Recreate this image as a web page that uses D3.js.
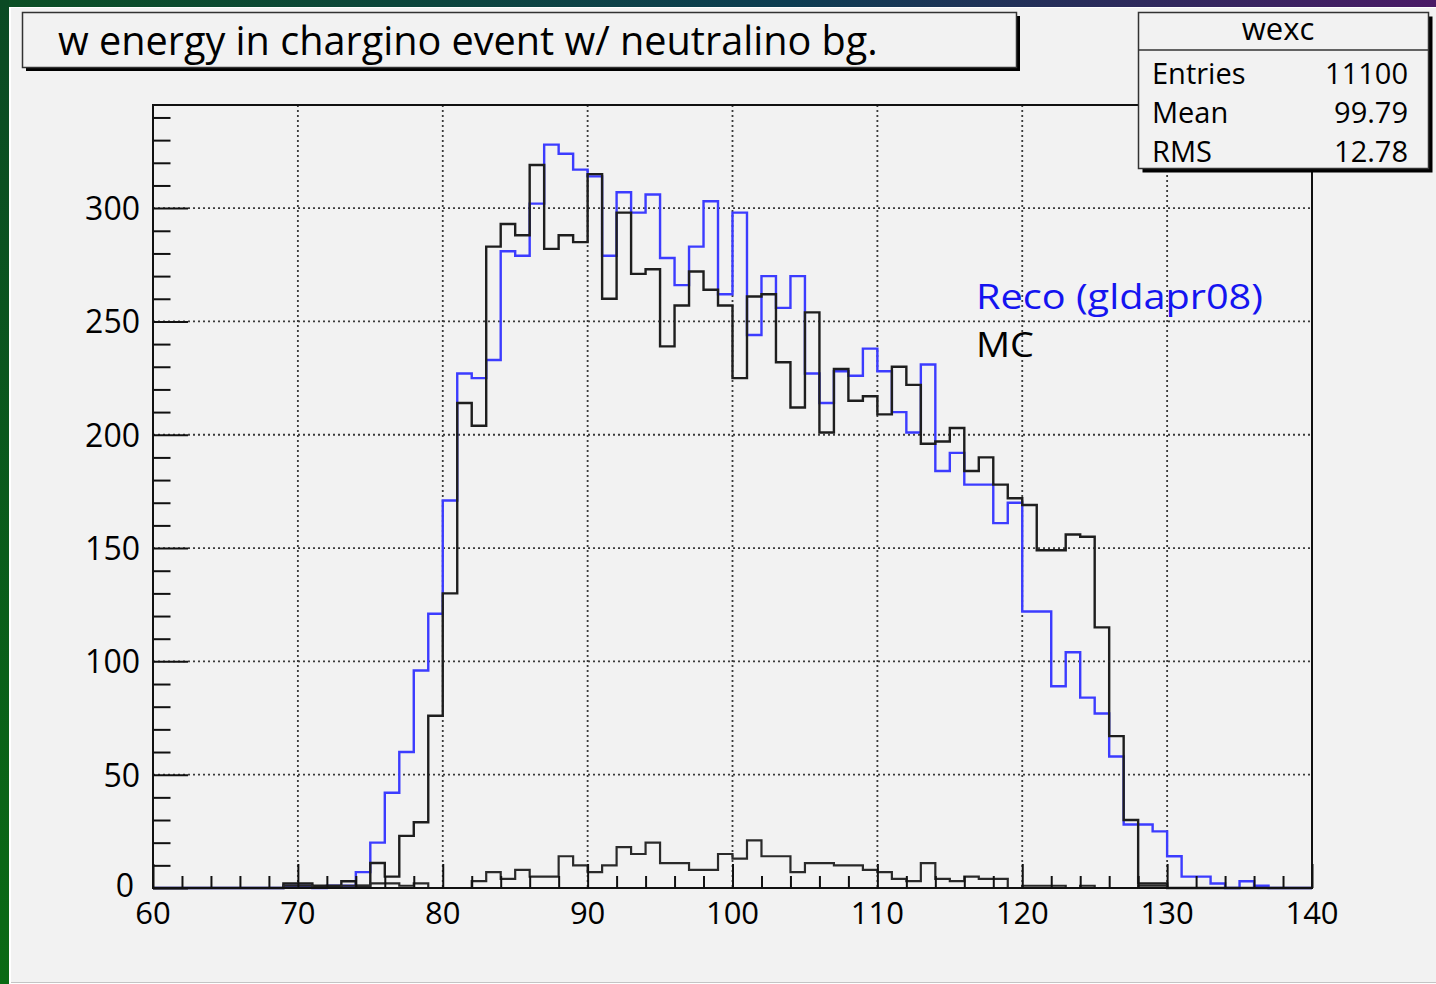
<!DOCTYPE html>
<html>
<head>
<meta charset="utf-8">
<script src="https://cdn.jsdelivr.net/npm/d3@7"></script>
<style>
  html, body { margin: 0; padding: 0; background: #ffffff; }
  svg { display: block; }
  text { font-family: "Open Sans", "Noto Sans", sans-serif; }
</style>
</head>
<body>
<svg id="chart" width="1436" height="984"></svg>
<script>
// Bin layout: 80 bins of width 1 from 60 to 140
const binLow = 60;
const binHigh = 140;
const xTicks = [60, 70, 80, 90, 100, 110, 120, 130, 140];
const yTicks = [0, 50, 100, 150, 200, 250, 300];

// Reconstructed W energy (blue)
const recoCounts = [
  0, 0, 0, 0, 0, 0, 0, 0, 0, 1,
  1, 0, 1, 1, 7, 20, 42, 60, 96, 121,
  171, 227, 225, 233, 281, 279, 302, 328, 324, 317,
  314, 279, 307, 298, 306, 278, 266, 283, 303, 262,
  298, 244, 270, 256, 270, 227, 214, 228, 226, 238,
  228, 210, 201, 231, 184, 192, 178, 178, 161, 170,
  122, 122, 89, 104, 84, 77, 58, 28, 28, 25,
  14, 5, 5, 2, 0, 3, 1, 0, 0, 0
];

// Generator-level W energy (black)
const mcCounts = [
  0, 0, 0, 0, 0, 0, 0, 0, 0, 2,
  2, 1, 1, 3, 1, 11, 5, 23, 29, 76,
  130, 214, 204, 283, 293, 288, 319, 282, 288, 285,
  315, 260, 298, 271, 273, 239, 257, 272, 264, 257,
  225, 261, 262, 232, 212, 254, 201, 229, 215, 217,
  209, 230, 222, 196, 197, 203, 184, 190, 178, 172,
  169, 149, 149, 156, 155, 115, 67, 30, 2, 2,
  0, 0, 0, 0, 0, 0, 0, 0, 0, 0
];

// Neutralino background contribution (dark grey, bottom)
const bgCounts = [
  0, 0, 0, 0, 0, 0, 0, 0, 0, 1,
  1, 0, 0, 1, 1, 2, 2, 1, 2, 0,
  0, 0, 3, 7, 4, 8, 5, 5, 14, 10,
  7, 10, 18, 15, 20, 11, 11, 8, 8, 15,
  13, 21, 14, 14, 7, 11, 11, 10, 10, 8,
  7, 4, 3, 11, 4, 3, 5, 4, 4, 0,
  1, 1, 1, 0, 1, 0, 0, 0, 1, 1,
  0, 0, 0, 0, 0, 0, 0, 0, 0, 0
];

const titleText = "w energy in chargino event w/ neutralino bg.";
const statsName = "wexc";
const statsRows = [["Entries", "11100"], ["Mean", "99.79"], ["RMS", "12.78"]];
const legendEntries = [
  { label: "Reco (gldapr08)", color: "#1414f0", width: 287 },
  { label: "MC", color: "#000000", width: 58 }
];

const W = 1436, H = 984;
const svg = d3.select("#chart");

// ---- page frame -------------------------------------------------------
const defs = svg.append("defs");
const topGrad = defs.append("linearGradient").attr("id", "topGrad")
  .attr("x1", "0").attr("x2", "1").attr("y1", "0").attr("y2", "0");
topGrad.append("stop").attr("offset", "0").attr("stop-color", "#0b4f24");
topGrad.append("stop").attr("offset", "0.55").attr("stop-color", "#0d3d52");
topGrad.append("stop").attr("offset", "1").attr("stop-color", "#4a1a66");
const sideGrad = defs.append("linearGradient").attr("id", "sideGrad")
  .attr("x1", "0").attr("x2", "0").attr("y1", "0").attr("y2", "1");
sideGrad.append("stop").attr("offset", "0").attr("stop-color", "#0b4a24");
sideGrad.append("stop").attr("offset", "1").attr("stop-color", "#0a6a14");

svg.append("rect").attr("width", W).attr("height", H).attr("fill", "#ffffff");
svg.append("rect").attr("x", 0).attr("y", 0).attr("width", W).attr("height", 7).attr("fill", "url(#topGrad)");
svg.append("rect").attr("x", 0).attr("y", 0).attr("width", 9).attr("height", H).attr("fill", "url(#sideGrad)");
svg.append("rect").attr("x", 11).attr("y", 8).attr("width", W - 11).attr("height", 974).attr("fill", "#f2f2f2");
svg.append("line").attr("x1", 11).attr("x2", W).attr("y1", 982.5).attr("y2", 982.5)
  .attr("stroke", "#c4c4c4").attr("stroke-width", 1);

// ---- scales -----------------------------------------------------------
const plot = { left: 153, right: 1312, top: 105, bottom: 888 };
const x = d3.scaleLinear().domain([binLow, binHigh]).range([plot.left, plot.right]);
const y = d3.scaleLinear().domain([0, 345.5]).range([plot.bottom, plot.top]);

// ---- grid -------------------------------------------------------------
const grid = svg.append("g").attr("stroke", "#3a3a3a").attr("stroke-width", 1.8)
  .attr("stroke-dasharray", "2,3");
grid.selectAll(".vg").data(xTicks.slice(1, -1)).join("line")
  .attr("x1", d => x(d)).attr("x2", d => x(d))
  .attr("y1", plot.top).attr("y2", plot.bottom);
grid.selectAll(".hg").data(yTicks.slice(1)).join("line")
  .attr("x1", plot.left).attr("x2", plot.right)
  .attr("y1", d => y(d)).attr("y2", d => y(d));

// ---- histograms -------------------------------------------------------
function stepPoints(counts) {
  const pts = [{ x: binLow, v: 0 }];
  counts.forEach((v, i) => pts.push({ x: binLow + i, v }));
  pts.push({ x: binHigh, v: counts[counts.length - 1] });
  pts.push({ x: binHigh, v: 0 });
  return pts;
}
const stepLine = d3.line().x(d => x(d.x)).y(d => y(d.v)).curve(d3.curveStepAfter);

svg.append("path").datum(stepPoints(recoCounts)).attr("d", stepLine)
  .attr("fill", "none").attr("stroke", "#3c3cff").attr("stroke-width", 2.4);
svg.append("path").datum(stepPoints(mcCounts)).attr("d", stepLine)
  .attr("fill", "none").attr("stroke", "#1e1e1e").attr("stroke-width", 2.4);
svg.append("path").datum(stepPoints(bgCounts)).attr("d", stepLine)
  .attr("fill", "none").attr("stroke", "#2a2a2a").attr("stroke-width", 2.2);

// ---- axes (ticks drawn inward, ROOT style) ----------------------------
const axisColor = "#111";
const xAxis = d3.axisTop(x).tickValues(d3.range(binLow, binHigh + 0.001, 2))
  .tickSize(12).tickFormat("");
const xg = svg.append("g").attr("transform", `translate(0,${plot.bottom})`).call(xAxis);
xg.selectAll(".tick line").attr("stroke", axisColor).attr("stroke-width", 2)
  .filter(d => d % 10 === 0).attr("y2", -24);
xg.select(".domain").remove();

const yAxis = d3.axisRight(y).tickValues(d3.range(0, 341, 10)).tickSize(17.5).tickFormat("");
const yg = svg.append("g").attr("transform", `translate(${plot.left},0)`).call(yAxis);
yg.selectAll(".tick line").attr("stroke", axisColor).attr("stroke-width", 2)
  .filter(d => d % 50 === 0).attr("x2", 35);
yg.select(".domain").remove();

// frame
svg.append("rect").attr("x", plot.left).attr("y", plot.top)
  .attr("width", plot.right - plot.left).attr("height", plot.bottom - plot.top)
  .attr("fill", "none").attr("stroke", axisColor).attr("stroke-width", 2);

// tick labels
svg.append("g").selectAll("text").data(xTicks).join("text")
  .attr("x", d => x(d)).attr("y", 924)
  .attr("text-anchor", "middle").attr("font-size", 31).attr("fill", "#000")
  .text(d => d);
svg.append("g").selectAll("text").data(yTicks).join("text")
  .attr("x", d => d === 0 ? 134 : 140).attr("y", d => y(d) + (d === 0 ? 9 : 12))
  .attr("text-anchor", "end").attr("font-size", 32).attr("fill", "#000")
  .text(d => d);

// ---- title box --------------------------------------------------------
svg.append("rect").attr("x", 26).attr("y", 16).attr("width", 994).attr("height", 55).attr("fill", "#000");
svg.append("rect").attr("x", 22.5).attr("y", 12.5).attr("width", 994).attr("height", 55)
  .attr("fill", "#f2f2f2").attr("stroke", "#333").attr("stroke-width", 1.5);
const title = svg.append("text").attr("x", 58).attr("y", 55)
  .attr("font-size", 38).attr("fill", "#000").text(titleText);
// scale the title so it spans the box the way the original layout does
(function fit(sel, target) {
  const w = sel.node().getComputedTextLength();
  const fs = +sel.attr("font-size");
  sel.attr("font-size", fs * target / w);
})(title, 820);

// ---- legend text (wide face: stretch glyphs to the set width) --------
const legend = svg.append("g");
legend.selectAll("text").data(legendEntries).join("text")
  .attr("x", 976).attr("y", (d, i) => 309 + i * 48)
  .attr("font-size", 35).attr("fill", d => d.color)
  .attr("textLength", d => d.width).attr("lengthAdjust", "spacingAndGlyphs")
  .text(d => d.label);

// ---- statistics box ---------------------------------------------------
const sb = { x: 1138.5, y: 12.5, w: 290, h: 156 };
svg.append("rect").attr("x", sb.x + 4).attr("y", sb.y + 4).attr("width", sb.w).attr("height", sb.h).attr("fill", "#000");
svg.append("rect").attr("x", sb.x).attr("y", sb.y).attr("width", sb.w).attr("height", sb.h)
  .attr("fill", "#f2f2f2").attr("stroke", "#333").attr("stroke-width", 1.5);
svg.append("line").attr("x1", sb.x).attr("x2", sb.x + sb.w).attr("y1", 50).attr("y2", 50)
  .attr("stroke", "#333").attr("stroke-width", 1.5);
svg.append("text").attr("x", 1278).attr("y", 40).attr("text-anchor", "middle")
  .attr("font-size", 31).attr("fill", "#000").text(statsName);
const rows = svg.append("g").selectAll("g").data(statsRows).join("g");
rows.append("text").attr("x", 1152).attr("y", (d, i) => 84 + i * 39)
  .attr("font-size", 29).attr("fill", "#000").text(d => d[0]);
rows.append("text").attr("x", 1408).attr("y", (d, i) => 84 + i * 39)
  .attr("text-anchor", "end").attr("font-size", 29).attr("fill", "#000").text(d => d[1]);
</script>
</body>
</html>
